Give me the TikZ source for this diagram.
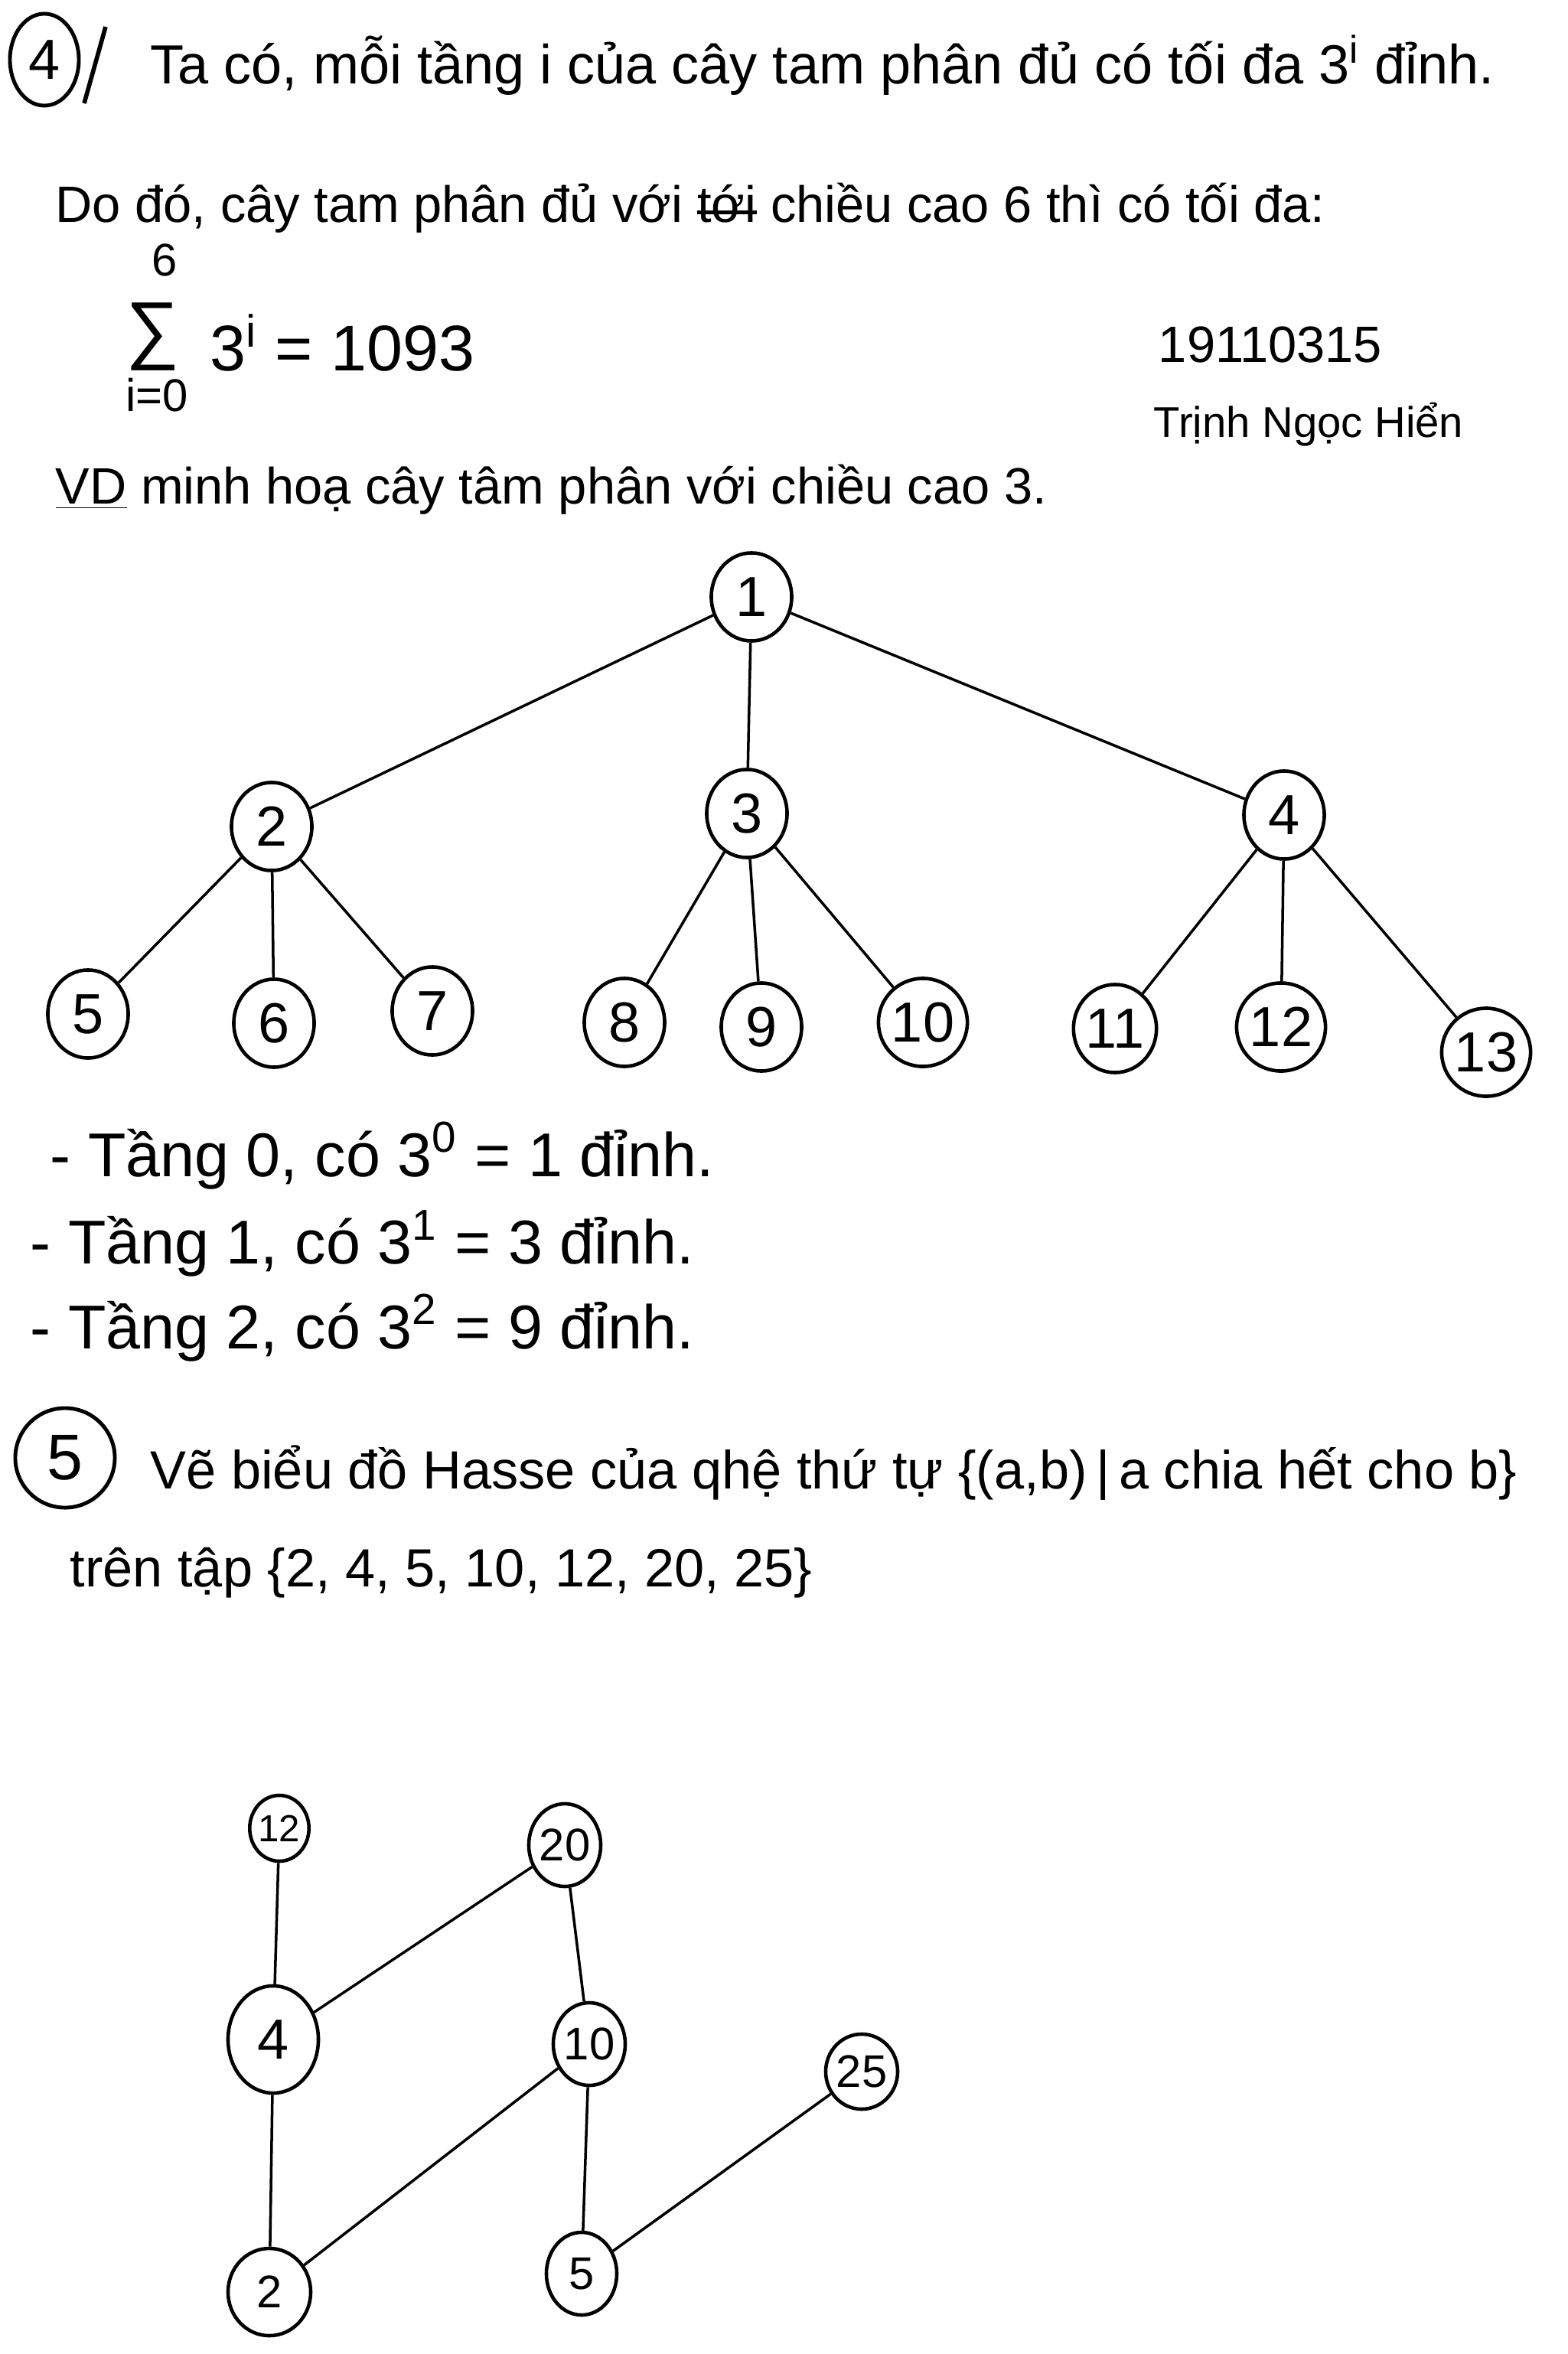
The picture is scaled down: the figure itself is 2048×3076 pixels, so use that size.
\documentclass[tikz,border=0pt]{standalone}
\usepackage{fontspec}
\setmainfont{Liberation Sans}
\usetikzlibrary{shapes.geometric}
\newcommand{\strk}[1]{\sbox0{#1}\rlap{\rule[0.3ex]{\wd0}{1.5pt}}\usebox0}

\begin{document}
\begin{tikzpicture}[%
      x=0.01cm, y=-0.01cm,
      txt/.style={anchor=west, inner sep=0pt, font=\fontsize{19}{23}\selectfont},
      bigtxt/.style={anchor=west, inner sep=0pt, font=\fontsize{23}{27}\selectfont},
      sumlim/.style={inner sep=0pt, font=\fontsize{17}{21}\selectfont},
      numcirc/.style={ellipse, draw, line width=1.4pt, inner sep=0pt, font=\fontsize{21}{25}\selectfont},
      tnode/.style={ellipse, draw, line width=1.3pt, inner sep=0pt, minimum width=1.05cm, minimum height=1.15cm, font=\fontsize{21}{25}\selectfont},
      hnode/.style={ellipse, draw, line width=1.3pt, inner sep=0pt, minimum width=0.92cm, minimum height=1.08cm, font=\fontsize{17}{20}\selectfont},
      link/.style={line width=1pt},
      ]
      \useasboundingbox [fill=white] (0,0) rectangle (2048,3076);

      \node (q4) [numcirc, minimum width=0.9cm, minimum height=1.2cm] at (58,78) {4};
      \draw [line width=1.6pt] (138,35) -- (110,135);
      \node (l1) [txt, font=\fontsize{20.5}{24}\selectfont] at (196,85) {Ta có, mỗi tầng i của cây tam phân đủ có tối đa 3\textsuperscript{i} đỉnh.};
      \node (l2) [txt] at (72,272) {Do đó, cây tam phân đủ với \strk{tới} chiều cao 6 thì có tối đa:};

      \node (s6) [sumlim] at (215,340) {6};
      \node (sig) [inner sep=0pt, text height=0.56cm, text depth=0.06cm, font=\fontsize{28}{32}\selectfont] at (200,438) {∑};
      \node (s0) [sumlim] at (205,516) {i=0};
      \node (sum) [txt, font=\fontsize{24}{28}\selectfont] at (274,448) {3\textsuperscript{i} = 1093};

      \node (mssv) [font=\fontsize{19}{23}\selectfont] at (1660,450) {19110315};
      \node (ten) [font=\fontsize{16}{20}\selectfont] at (1710,555) {Trịnh Ngọc Hiển};
      \node (vd) [txt] at (72,640) {\underline{VD} minh hoạ cây tâm phân với chiều cao 3.};

      \node (t1) [tnode] at (982,780) {1};
      \node (t2) [tnode] at (355,1080) {2};
      \node (t3) [tnode] at (976,1063) {3};
      \node (t4) [tnode] at (1678,1065) {4};
      \node (t5) [tnode] at (115,1325) {5};
      \node (t6) [tnode] at (358,1337) {6};
      \node (t7) [tnode] at (565,1321) {7};
      \node (t8) [tnode] at (816,1336) {8};
      \node (t9) [tnode] at (995,1342) {9};
      \node (t10) [tnode] at (1206,1336) {10};
      \node (t11) [tnode] at (1457,1344) {11};
      \node (t12) [tnode] at (1674,1342) {12};
      \node (t13) [tnode] at (1942,1375) {13};

      \draw [link] (t1) -- (t2);
      \draw [link] (t1) -- (t3);
      \draw [link] (t1) -- (t4);
      \draw [link] (t2) -- (t5);
      \draw [link] (t2) -- (t6);
      \draw [link] (t2) -- (t7);
      \draw [link] (t3) -- (t8);
      \draw [link] (t3) -- (t9);
      \draw [link] (t3) -- (t10);
      \draw [link] (t4) -- (t11);
      \draw [link] (t4) -- (t12);
      \draw [link] (t4) -- (t13);

      \node (tang0) [bigtxt] at (65,1510) {- Tầng 0, có 3\textsuperscript{0} = 1 đỉnh.};
      \node (tang1) [bigtxt] at (39,1625) {- Tầng 1, có 3\textsuperscript{1} = 3 đỉnh.};
      \node (tang2) [bigtxt] at (39,1735) {- Tầng 2, có 3\textsuperscript{2} = 9 đỉnh.};

      \node (q5) [numcirc, minimum width=1.3cm, minimum height=1.3cm, font=\fontsize{24}{28}\selectfont] at (85,1905) {5};
      \node (l5a) [txt, font=\fontsize{20}{24}\selectfont] at (196,1925) {Vẽ biểu đồ Hasse của qhệ thứ tự \{(a,b)\,|\,a chia hết cho b\}};
      \node (l5b) [txt, font=\fontsize{20}{24}\selectfont] at (91,2055) {trên tập \{2, 4, 5, 10, 12, 20, 25\}};

      \node (h12) [hnode, minimum width=0.72cm, minimum height=0.86cm, font=\fontsize{14}{17}\selectfont] at (365,2389) {12};
      \node (h20) [hnode] at (738,2411) {20};
      \node (h4) [hnode, minimum width=1.18cm, minimum height=1.4cm, font=\fontsize{21}{25}\selectfont] at (357,2665) {4};
      \node (h10) [hnode] at (770,2671) {10};
      \node (h25) [hnode, minimum width=0.86cm, minimum height=0.98cm] at (1126,2707) {25};
      \node (h2) [hnode, minimum width=1.08cm, minimum height=1.14cm] at (352,2995) {2};
      \node (h5) [hnode] at (760,2971) {5};

      \draw [link] (h12) -- (h4);
      \draw [link] (h4) -- (h2);
      \draw [link] (h4) -- (h20);
      \draw [link] (h20) -- (h10);
      \draw [link] (h10) -- (h2);
      \draw [link] (h10) -- (h5);
      \draw [link] (h5) -- (h25);
\end{tikzpicture}
\end{document}
